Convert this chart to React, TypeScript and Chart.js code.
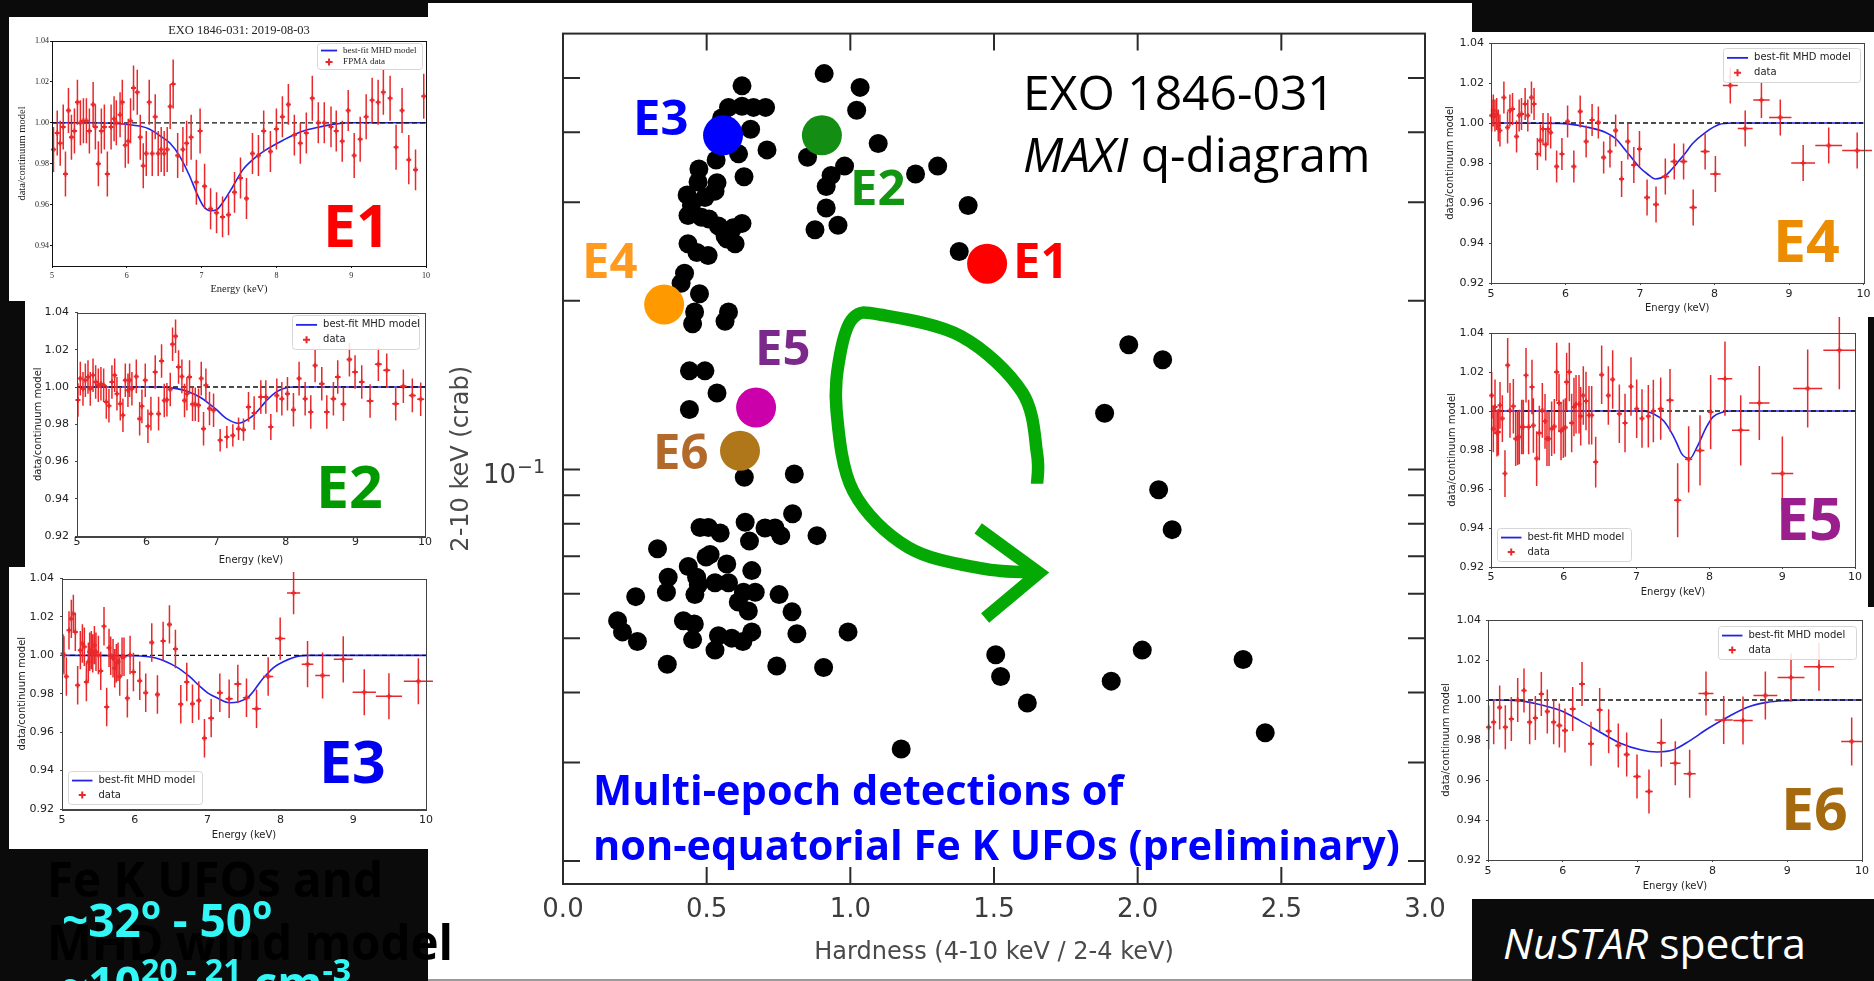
import React, { useEffect, useRef } from 'react';
import { Chart, registerables } from 'chart.js';

Chart.register(...registerables);

const SANS = "'DejaVu Sans', sans-serif";
const SERIF = "'Liberation Serif', 'DejaVu Serif', serif";
const SLIDE = "'Open Sans', 'Noto Sans', sans-serif";

// ---------------- MAXI q-diagram (hardness vs 2-10 keV flux) ----------------
const hardnessTicks = [0, 0.5, 1.0, 1.5, 2.0, 2.5, 3.0];
const fluxTicks = [0.02, 0.03, 0.04, 0.05, 0.06, 0.07, 0.08, 0.09, 0.1, 0.2, 0.3, 0.4, 0.5];

const maxiHardness = [
  0.623, 0.909, 1.034, 1.022, 0.576, 0.623, 0.663, 0.705, 0.552, 0.653,
  0.710, 0.611, 0.533, 0.630, 0.470, 0.529, 0.494, 0.447, 0.435, 0.482,
  0.623, 0.541, 0.592, 0.564, 0.435, 0.599, 0.505, 0.423, 0.411, 0.475,
  0.458, 0.451, 0.576, 0.564, 0.440, 0.494, 0.536, 0.440, 0.851, 1.097,
  0.980, 0.933, 0.916, 0.916, 0.877, 0.957, 1.227, 1.304, 1.410, 1.379,
  0.473, 0.432, 0.536, 0.466, 0.571, 0.508,
  0.631, 0.805, 0.799, 0.634, 0.703, 0.738, 0.758, 0.477, 0.506, 0.547,
  0.649, 0.884, 0.329, 0.512, 0.570, 0.436, 0.657, 0.465, 0.366, 0.529,
  0.576, 0.360, 0.459, 0.253, 0.628, 0.669, 0.752, 0.610, 0.645, 0.797,
  0.190, 0.419, 0.457, 0.207, 0.259, 0.451, 0.541, 0.587, 0.626, 0.657,
  0.529, 0.814, 0.992, 0.363, 0.744, 0.907, 0.498, 0.471,
  1.506, 1.523, 1.616, 1.177, 1.969, 2.087, 1.885, 2.073, 2.120, 2.016,
  1.908, 2.367, 2.444,
];
const maxiFlux = [
  0.484, 0.509, 0.481, 0.438, 0.443, 0.445, 0.443, 0.443, 0.424, 0.405,
  0.372, 0.366, 0.357, 0.333, 0.326, 0.314, 0.306, 0.296, 0.284, 0.282,
  0.275, 0.272, 0.270, 0.261, 0.253, 0.253, 0.241, 0.224, 0.215, 0.206,
  0.191, 0.182, 0.191, 0.184, 0.150, 0.150, 0.137, 0.128, 0.361, 0.382,
  0.348, 0.335, 0.320, 0.293, 0.268, 0.273, 0.337, 0.348, 0.296, 0.245,
  0.344, 0.309, 0.325, 0.244, 0.258, 0.280,
  0.0969, 0.0982, 0.0834, 0.0805, 0.0786, 0.0786, 0.0762, 0.0788, 0.0788, 0.0770,
  0.0745, 0.0762, 0.0722, 0.0705, 0.0678, 0.0671, 0.0660, 0.0642, 0.0642, 0.0628,
  0.0628, 0.0604, 0.0598, 0.0593, 0.0604, 0.0604, 0.0598, 0.0580, 0.0559, 0.0557,
  0.0537, 0.0537, 0.0530, 0.0513, 0.0493, 0.0497, 0.0505, 0.0500, 0.0493, 0.0513,
  0.0476, 0.0509, 0.0513, 0.0449, 0.0446, 0.0443, 0.0698, 0.0623,
  0.0467, 0.0427, 0.0383, 0.0317, 0.167, 0.157, 0.126, 0.092, 0.0781, 0.0476,
  0.0419, 0.0458, 0.0339,
];

// NuSTAR epochs marked on the q-diagram
const epochNames = ['E1', 'E2', 'E3', 'E4', 'E5', 'E6'];
const epochHardness = [1.476, 0.901, 0.557, 0.352, 0.672, 0.616];
const epochFlux = [0.233, 0.395, 0.395, 0.197, 0.129, 0.108];
const epochDotColors = ['#ff0000', '#138d13', '#0000ff', '#ff9900', '#cc00aa', '#b0761a'];

// hand-drawn evolution arrow, in (hardness, flux)
const arrowCurve = [
  [1.65, 0.0943], [1.65, 0.1066], [1.598, 0.1374], [1.387, 0.1728], [1.105, 0.1889],
  [1.01, 0.1865], [0.964, 0.160], [0.952, 0.1274], [1.01, 0.0915], [1.2, 0.0727],
  [1.457, 0.0666], [1.657, 0.0654],
];
const arrowHead = [[1.445, 0.0785], [1.657, 0.0654], [1.469, 0.0543]];

// ---------------- NuSTAR Fe K ratio spectra: [energy, ratio, xErr, yErr] ----------------
const energyTicks = [5, 6, 7, 8, 9, 10];
const ratioTicks = [0.92, 0.94, 0.96, 0.98, 1.0, 1.02, 1.04];
const ratioTicksE1 = [0.94, 0.96, 0.98, 1.0, 1.02, 1.04];

const e1Data = [
  [5.02, 0.987, 0.02, 0.011], [5.07, 0.995, 0.02, 0.011], [5.11, 0.990, 0.02, 0.011], [5.15, 0.998, 0.02, 0.011],
  [5.18, 0.975, 0.02, 0.011], [5.22, 1.006, 0.02, 0.011], [5.26, 0.993, 0.02, 0.011], [5.30, 0.996, 0.02, 0.011],
  [5.34, 1.010, 0.02, 0.011], [5.38, 1.000, 0.02, 0.011], [5.42, 1.001, 0.02, 0.011], [5.46, 1.001, 0.02, 0.011],
  [5.50, 0.996, 0.02, 0.011], [5.55, 1.009, 0.02, 0.011], [5.58, 0.998, 0.02, 0.011], [5.62, 0.980, 0.02, 0.011],
  [5.66, 0.996, 0.02, 0.011], [5.70, 0.998, 0.02, 0.011], [5.74, 0.975, 0.02, 0.011], [5.79, 0.998, 0.02, 0.011],
  [5.83, 1.002, 0.02, 0.011], [5.86, 1.000, 0.02, 0.011], [5.91, 1.004, 0.02, 0.011], [5.94, 1.010, 0.02, 0.011],
  [5.98, 0.989, 0.02, 0.011], [6.02, 0.991, 0.02, 0.011], [6.05, 1.001, 0.02, 0.011], [6.09, 1.017, 0.02, 0.011],
  [6.14, 1.015, 0.02, 0.011], [6.18, 0.993, 0.02, 0.011], [6.22, 0.979, 0.02, 0.011], [6.26, 0.985, 0.02, 0.011],
  [6.30, 1.010, 0.02, 0.011], [6.34, 0.985, 0.02, 0.011], [6.38, 1.003, 0.02, 0.011], [6.42, 0.985, 0.02, 0.011],
  [6.46, 0.987, 0.02, 0.011], [6.50, 0.985, 0.02, 0.011], [6.54, 0.987, 0.02, 0.011], [6.58, 1.008, 0.02, 0.011],
  [6.62, 1.019, 0.02, 0.012], [6.68, 0.984, 0.02, 0.011], [6.75, 0.987, 0.02, 0.011], [6.80, 0.990, 0.02, 0.011],
  [6.86, 0.993, 0.02, 0.011], [6.93, 0.971, 0.02, 0.011], [6.98, 0.996, 0.02, 0.011], [7.04, 0.969, 0.02, 0.011],
  [7.12, 0.958, 0.02, 0.010], [7.20, 0.956, 0.02, 0.010], [7.28, 0.954, 0.02, 0.010], [7.36, 0.955, 0.02, 0.010],
  [7.44, 0.966, 0.02, 0.010], [7.52, 0.973, 0.02, 0.010], [7.60, 0.963, 0.02, 0.010], [7.68, 0.985, 0.02, 0.010],
  [7.76, 0.984, 0.02, 0.010], [7.83, 0.996, 0.02, 0.010], [7.92, 0.986, 0.02, 0.010], [8.00, 0.997, 0.02, 0.010],
  [8.08, 1.003, 0.02, 0.010], [8.16, 1.009, 0.02, 0.010], [8.24, 0.994, 0.02, 0.010], [8.32, 0.990, 0.02, 0.010],
  [8.40, 0.995, 0.02, 0.010], [8.48, 1.012, 0.02, 0.011], [8.56, 1.000, 0.02, 0.010], [8.64, 1.000, 0.02, 0.010],
  [8.73, 0.998, 0.02, 0.010], [8.80, 0.996, 0.02, 0.010], [8.88, 0.991, 0.02, 0.010], [8.96, 1.006, 0.02, 0.010],
  [9.04, 0.984, 0.02, 0.011], [9.12, 0.992, 0.02, 0.011], [9.20, 1.003, 0.02, 0.011], [9.28, 1.011, 0.02, 0.011],
  [9.36, 1.010, 0.02, 0.011], [9.43, 1.015, 0.02, 0.011], [9.52, 1.012, 0.02, 0.011], [9.60, 0.988, 0.02, 0.011],
  [9.68, 1.006, 0.02, 0.011], [9.77, 0.982, 0.02, 0.012], [9.86, 0.977, 0.02, 0.010], [9.97, 1.013, 0.02, 0.011],
];
const e1Model = [
  [5.0, 1.0], [5.5, 1.0], [5.86, 0.9997], [6.17, 0.9984], [6.3, 0.997], [6.45, 0.9935], [6.58, 0.990],
  [6.71, 0.9835], [6.84, 0.974], [6.93, 0.966], [7.02, 0.9595], [7.12, 0.957], [7.2, 0.9575], [7.3, 0.962],
  [7.42, 0.969], [7.55, 0.977], [7.7, 0.9825], [7.87, 0.987], [8.09, 0.9915], [8.32, 0.9955], [8.58, 0.998],
  [8.8, 0.9995], [9.0, 1.0], [10.0, 1.0],
];

const e2Data = [
  [5.014, 0.993, 0.02, 0.009], [5.048, 1.0045, 0.02, 0.009], [5.086, 0.999, 0.02, 0.009], [5.12, 1.0036, 0.02, 0.009],
  [5.158, 1.0054, 0.02, 0.009], [5.191, 0.999, 0.02, 0.009], [5.23, 1.0063, 0.02, 0.009], [5.268, 1.0027, 0.02, 0.009],
  [5.306, 1.0009, 0.02, 0.009], [5.344, 1.0018, 0.02, 0.009], [5.383, 1.0009, 0.02, 0.009], [5.421, 0.992, 0.02, 0.009],
  [5.459, 0.990, 0.02, 0.009], [5.502, 1.0027, 0.02, 0.009], [5.541, 1.0063, 0.02, 0.009], [5.574, 0.9964, 0.02, 0.009],
  [5.622, 0.991, 0.02, 0.009], [5.66, 0.9848, 0.02, 0.009], [5.694, 1.0036, 0.02, 0.009], [5.732, 0.9982, 0.02, 0.009],
  [5.756, 1.0036, 0.02, 0.009], [5.789, 0.9991, 0.02, 0.009], [5.852, 1.0057, 0.02, 0.009], [5.9, 0.983, 0.02, 0.009],
  [5.933, 0.9896, 0.02, 0.009], [5.981, 1.0036, 0.02, 0.009], [6.019, 0.9789, 0.02, 0.009], [6.062, 0.9857, 0.02, 0.009],
  [6.124, 1.0081, 0.02, 0.009], [6.172, 0.9857, 0.02, 0.009], [6.215, 1.014, 0.02, 0.009], [6.254, 0.9928, 0.02, 0.009],
  [6.292, 0.9932, 0.02, 0.009], [6.34, 0.9986, 0.02, 0.009], [6.373, 1.0229, 0.02, 0.009], [6.416, 1.0272, 0.02, 0.009],
  [6.459, 1.0107, 0.02, 0.009], [6.507, 1.0057, 0.02, 0.009], [6.545, 0.9928, 0.02, 0.009], [6.579, 0.9964, 0.02, 0.009],
  [6.617, 1.0054, 0.02, 0.009], [6.66, 0.9907, 0.02, 0.009], [6.699, 0.9907, 0.02, 0.009], [6.746, 0.9902, 0.02, 0.009],
  [6.785, 1.0045, 0.02, 0.009], [6.818, 0.9776, 0.02, 0.009], [6.852, 1.0009, 0.02, 0.009], [6.904, 0.9884, 0.02, 0.009],
  [6.962, 0.9875, 0.02, 0.009], [7.057, 0.9714, 0.03, 0.006], [7.153, 0.9731, 0.03, 0.006], [7.239, 0.974, 0.03, 0.006],
  [7.321, 0.9776, 0.03, 0.006], [7.392, 0.9771, 0.03, 0.006], [7.464, 0.9893, 0.03, 0.008], [7.545, 0.986, 0.03, 0.009],
  [7.641, 0.9946, 0.03, 0.009], [7.713, 0.9946, 0.03, 0.009], [7.785, 0.9785, 0.03, 0.007], [7.871, 0.9955, 0.03, 0.009],
  [7.943, 0.9937, 0.03, 0.009], [8.024, 0.9964, 0.03, 0.009], [8.11, 0.9878, 0.03, 0.009], [8.191, 1.0045, 0.03, 0.009],
  [8.278, 0.9937, 0.03, 0.009], [8.359, 0.9866, 0.03, 0.009], [8.421, 1.0116, 0.03, 0.009], [8.517, 1.0018, 0.04, 0.009],
  [8.589, 0.9866, 0.04, 0.009], [8.684, 0.9937, 0.04, 0.009], [8.746, 1.0054, 0.04, 0.009], [8.828, 0.9907, 0.04, 0.009],
  [8.914, 1.0147, 0.04, 0.009], [8.995, 1.0081, 0.04, 0.009], [9.091, 1.0027, 0.04, 0.009], [9.211, 0.9925, 0.05, 0.009],
  [9.33, 1.0122, 0.05, 0.009], [9.45, 1.009, 0.05, 0.009], [9.579, 0.991, 0.05, 0.009], [9.689, 1.0004, 0.05, 0.009],
  [9.818, 0.9955, 0.05, 0.009], [9.938, 0.9934, 0.05, 0.009],
];
const e2Model = [
  [5.0, 1.0], [6.2, 1.0], [6.45, 0.999], [6.6, 0.9975], [6.77, 0.9945], [6.9, 0.991], [7.0, 0.988], [7.15, 0.983],
  [7.32, 0.9805], [7.45, 0.9825], [7.54, 0.985], [7.65, 0.9895], [7.73, 0.993], [7.85, 0.997], [7.97, 0.9992],
  [8.1, 1.0], [10.0, 1.0],
];

const e3Data = [
  [5.014, 1.001, 0.012, 0.010], [5.027, 1.000, 0.012, 0.010], [5.06, 0.989, 0.012, 0.010], [5.096, 1.013, 0.012, 0.010],
  [5.128, 1.019, 0.012, 0.010], [5.156, 1.0216, 0.012, 0.010], [5.183, 1.0122, 0.012, 0.010], [5.215, 0.9844, 0.012, 0.010],
  [5.252, 1.0027, 0.012, 0.010], [5.28, 1.0062, 0.012, 0.010], [5.307, 1.0045, 0.012, 0.010], [5.335, 0.9861, 0.012, 0.010],
  [5.362, 0.9967, 0.012, 0.010], [5.38, 1.0019, 0.012, 0.010], [5.403, 1.0027, 0.012, 0.010], [5.422, 1.001, 0.012, 0.010],
  [5.445, 1.0053, 0.012, 0.010], [5.467, 1.0019, 0.012, 0.010], [5.5, 1.0002, 0.012, 0.010], [5.532, 0.9919, 0.012, 0.010],
  [5.577, 1.0151, 0.012, 0.010], [5.614, 0.9731, 0.012, 0.010], [5.646, 1.0039, 0.012, 0.010], [5.669, 0.9998, 0.012, 0.010],
  [5.701, 0.9985, 0.012, 0.010], [5.724, 0.9933, 0.012, 0.010], [5.747, 0.9959, 0.012, 0.010], [5.77, 0.9967, 0.012, 0.010],
  [5.793, 0.989, 0.012, 0.010], [5.825, 0.9993, 0.012, 0.010], [5.852, 0.9993, 0.012, 0.010], [5.898, 0.9776, 0.02, 0.010],
  [5.935, 1.0002, 0.02, 0.010], [5.981, 0.9913, 0.02, 0.010], [6.068, 0.9868, 0.03, 0.010], [6.15, 0.9805, 0.03, 0.010],
  [6.233, 1.0067, 0.03, 0.010], [6.311, 0.9796, 0.03, 0.010], [6.389, 1.0075, 0.03, 0.010], [6.476, 1.0161, 0.03, 0.010],
  [6.558, 1.0033, 0.03, 0.010], [6.632, 0.9745, 0.03, 0.010], [6.714, 0.9861, 0.03, 0.010], [6.792, 0.9748, 0.03, 0.010],
  [6.879, 0.9765, 0.03, 0.010], [6.957, 0.9568, 0.03, 0.010], [7.049, 0.9673, 0.04, 0.010], [7.168, 0.9805, 0.04, 0.010],
  [7.296, 0.9774, 0.05, 0.010], [7.415, 0.9851, 0.05, 0.010], [7.534, 0.9779, 0.05, 0.010], [7.672, 0.9722, 0.06, 0.010],
  [7.832, 0.989, 0.07, 0.010], [7.997, 1.0087, 0.07, 0.011], [8.181, 1.0324, 0.09, 0.011], [8.373, 0.9954, 0.08, 0.012],
  [8.579, 0.9895, 0.1, 0.012], [8.863, 0.9979, 0.13, 0.012], [9.152, 0.9808, 0.16, 0.012], [9.491, 0.9787, 0.18, 0.012],
  [9.895, 0.9865, 0.2, 0.012],
];
const e3Model = [
  [5.0, 1.0], [5.98, 0.9998], [6.3, 0.9985], [6.57, 0.994], [6.75, 0.989], [6.89, 0.984], [7.0, 0.9805],
  [7.12, 0.978], [7.3, 0.9753], [7.44, 0.976], [7.55, 0.978], [7.63, 0.9813], [7.72, 0.986], [7.81, 0.990],
  [7.92, 0.994], [8.04, 0.9967], [8.27, 0.9997], [8.4, 1.0], [10.0, 1.0],
];

const e4Data = [
  [5.009, 1.0037, 0.012, 0.008], [5.031, 1.0062, 0.012, 0.008], [5.053, 1.0037, 0.012, 0.008], [5.076, 1.0045, 0.012, 0.008],
  [5.098, 0.9987, 0.012, 0.008], [5.12, 0.9962, 0.012, 0.008], [5.173, 1.0128, 0.012, 0.008], [5.222, 0.9978, 0.012, 0.008],
  [5.254, 1.0062, 0.012, 0.008], [5.289, 1.007, 0.012, 0.008], [5.343, 0.9932, 0.012, 0.008], [5.378, 1.0037, 0.012, 0.008],
  [5.409, 1.0045, 0.012, 0.008], [5.458, 1.0095, 0.012, 0.008], [5.494, 1.0037, 0.012, 0.008], [5.543, 1.0128, 0.012, 0.008],
  [5.578, 1.0095, 0.012, 0.008], [5.623, 0.9845, 0.012, 0.008], [5.663, 0.9912, 0.012, 0.008], [5.698, 0.997, 0.012, 0.008],
  [5.734, 0.9892, 0.012, 0.008], [5.765, 0.997, 0.012, 0.008], [5.801, 0.9953, 0.012, 0.008], [5.881, 0.9783, 0.02, 0.008],
  [5.952, 0.9845, 0.02, 0.008], [6.028, 1.0008, 0.03, 0.008], [6.112, 0.9783, 0.03, 0.008], [6.197, 1.0058, 0.03, 0.008],
  [6.277, 0.9908, 0.03, 0.008], [6.357, 1.0015, 0.03, 0.008], [6.441, 1.0003, 0.03, 0.008], [6.512, 0.9828, 0.03, 0.008],
  [6.597, 0.9858, 0.03, 0.008], [6.673, 0.9962, 0.03, 0.008], [6.753, 0.972, 0.03, 0.009], [6.837, 0.9907, 0.03, 0.009],
  [6.917, 0.979, 0.03, 0.009], [6.993, 0.987, 0.03, 0.009], [7.095, 0.9628, 0.04, 0.009], [7.215, 0.9592, 0.04, 0.009],
  [7.34, 0.9733, 0.05, 0.009], [7.46, 0.9808, 0.05, 0.009], [7.585, 0.9808, 0.05, 0.009], [7.714, 0.9578, 0.05, 0.009],
  [7.874, 0.9858, 0.06, 0.009], [8.012, 0.9745, 0.07, 0.009], [8.212, 1.0187, 0.1, 0.009], [8.412, 0.9973, 0.1, 0.009],
  [8.63, 1.0115, 0.11, 0.009], [8.883, 1.0028, 0.15, 0.009], [9.19, 0.98, 0.16, 0.009], [9.533, 0.9887, 0.18, 0.009],
  [9.915, 0.9862, 0.2, 0.009],
];
const e4Model = [
  [5.0, 1.0], [5.92, 0.9998], [6.28, 0.998], [6.54, 0.9953], [6.68, 0.992], [6.77, 0.988], [6.88, 0.983],
  [6.99, 0.978], [7.1, 0.9745], [7.21, 0.972], [7.34, 0.9737], [7.43, 0.977], [7.52, 0.981], [7.61, 0.985],
  [7.7, 0.9895], [7.88, 0.9953], [8.06, 0.9992], [8.23, 1.0], [10.0, 1.0],
];

const e5Data = [
  [5.009, 1.008, 0.01, 0.012], [5.032, 0.9909, 0.01, 0.012], [5.055, 1.0021, 0.01, 0.014], [5.082, 0.9887, 0.01, 0.012],
  [5.101, 0.9892, 0.01, 0.012], [5.124, 1.0029, 0.01, 0.012], [5.156, 0.9961, 0.01, 0.012], [5.192, 0.9679, 0.01, 0.012],
  [5.229, 1.0234, 0.01, 0.014], [5.261, 1.0003, 0.01, 0.014], [5.307, 1.0024, 0.01, 0.014], [5.339, 0.9858, 0.01, 0.014],
  [5.366, 0.9863, 0.01, 0.014], [5.389, 0.9867, 0.01, 0.014], [5.421, 0.9918, 0.01, 0.014], [5.444, 0.9918, 0.01, 0.014],
  [5.481, 1.0183, 0.01, 0.014], [5.517, 0.9918, 0.01, 0.014], [5.563, 1.0123, 0.01, 0.014], [5.582, 0.9926, 0.01, 0.014],
  [5.627, 0.9756, 0.01, 0.014], [5.664, 0.9887, 0.01, 0.014], [5.705, 1.0003, 0.01, 0.014], [5.742, 0.9947, 0.01, 0.014],
  [5.769, 0.9858, 0.01, 0.014], [5.797, 0.9858, 0.01, 0.014], [5.833, 0.9909, 0.01, 0.014], [5.87, 0.9921, 0.01, 0.014],
  [5.902, 1.02, 0.01, 0.015], [5.934, 1.0041, 0.01, 0.015], [5.962, 0.9897, 0.01, 0.015], [5.994, 0.9909, 0.01, 0.015],
  [6.021, 0.9915, 0.01, 0.015], [6.039, 1.0149, 0.01, 0.015], [6.076, 1.02, 0.01, 0.015], [6.108, 0.9938, 0.01, 0.015],
  [6.14, 1.0021, 0.01, 0.015], [6.168, 1.0034, 0.01, 0.015], [6.209, 1.0034, 0.01, 0.015], [6.232, 0.9973, 0.01, 0.015],
  [6.268, 1.008, 0.01, 0.015], [6.305, 1.0051, 0.01, 0.015], [6.346, 0.9978, 0.01, 0.015], [6.383, 0.9978, 0.01, 0.015],
  [6.438, 0.9738, 0.02, 0.013], [6.52, 1.0186, 0.02, 0.015], [6.612, 1.008, 0.02, 0.015], [6.671, 1.0161, 0.02, 0.015],
  [6.763, 0.9986, 0.02, 0.015], [6.841, 0.9938, 0.02, 0.015], [6.923, 1.0126, 0.02, 0.015], [7.001, 1.0012, 0.02, 0.015],
  [7.074, 0.9961, 0.02, 0.015], [7.161, 0.9973, 0.02, 0.016], [7.23, 1.0, 0.02, 0.016], [7.331, 1.0012, 0.04, 0.016],
  [7.459, 1.0055, 0.05, 0.016], [7.564, 0.9542, 0.05, 0.019], [7.715, 0.9752, 0.05, 0.017], [7.871, 0.9798, 0.06, 0.018],
  [8.017, 0.9995, 0.04, 0.019], [8.214, 1.0166, 0.1, 0.019], [8.43, 0.9901, 0.12, 0.018], [8.686, 1.0041, 0.14, 0.019],
  [9.002, 0.9679, 0.15, 0.019], [9.35, 1.0115, 0.2, 0.02], [9.785, 1.0311, 0.22, 0.02],
];
const e5Model = [
  [5.0, 1.0], [7.1, 1.0], [7.23, 0.9986], [7.37, 0.995], [7.5, 0.9875], [7.57, 0.982], [7.62, 0.978],
  [7.73, 0.9756], [7.83, 0.9815], [7.96, 0.9918], [8.05, 0.997], [8.19, 0.9995], [8.3, 1.0], [10.0, 1.0],
];

const e6Data = [
  [5.009, 0.9864, 0.03, 0.011], [5.076, 0.9889, 0.03, 0.011], [5.156, 0.9963, 0.03, 0.011], [5.232, 0.9864, 0.03, 0.011],
  [5.312, 0.9905, 0.03, 0.011], [5.397, 1.0, 0.03, 0.011], [5.481, 1.0047, 0.03, 0.011], [5.557, 0.9889, 0.03, 0.011],
  [5.633, 0.991, 0.03, 0.011], [5.713, 1.003, 0.03, 0.011], [5.793, 0.9942, 0.03, 0.011], [5.878, 0.9889, 0.03, 0.011],
  [5.954, 0.9872, 0.04, 0.011], [6.029, 0.9847, 0.04, 0.011], [6.132, 0.9955, 0.04, 0.011], [6.257, 1.008, 0.04, 0.011],
  [6.377, 0.9781, 0.04, 0.011], [6.493, 0.995, 0.04, 0.011], [6.613, 0.9844, 0.04, 0.011], [6.742, 0.9772, 0.04, 0.011],
  [6.854, 0.9727, 0.04, 0.011], [6.992, 0.9618, 0.05, 0.011], [7.152, 0.9543, 0.05, 0.011], [7.317, 0.9786, 0.06, 0.012],
  [7.504, 0.9684, 0.07, 0.011], [7.696, 0.9631, 0.08, 0.012], [7.914, 1.0033, 0.1, 0.011], [8.151, 0.990, 0.12, 0.012],
  [8.409, 0.9897, 0.13, 0.012], [8.708, 1.0022, 0.16, 0.012], [9.051, 1.0113, 0.18, 0.012], [9.425, 1.0166, 0.2, 0.012],
  [9.862, 0.9792, 0.14, 0.012],
];
const e6Model = [
  [5.0, 1.0], [5.39, 0.9997], [5.66, 0.998], [5.97, 0.9947], [6.23, 0.9897], [6.5, 0.9839], [6.77, 0.9784],
  [7.04, 0.9751], [7.26, 0.974], [7.48, 0.9751], [7.7, 0.9797], [7.93, 0.9855], [8.2, 0.9914], [8.46, 0.9963],
  [8.73, 0.9988], [9.0, 0.9997], [9.2, 1.0], [10.0, 1.0],
];

// ---------------- panel geometry (page pixels) ----------------
const PANELS = [
  {
    key: 'E1', data: e1Data, model: e1Model, yMin: 0.93, yTicks: ratioTicksE1, serif: true,
    white: { l: 9, t: 17, w: 419, h: 284 }, canvas: { l: 9, t: 17, w: 432, h: 284 },
    area: { l: 52, t: 41, r: 426, b: 266 }, tickSize: 8, labelSize: 10.5, legendSize: 9,
    xTickY: 276, yTickRight: 49, xTitleY: 289, yTitleX: 22,
    title: 'EXO 1846-031: 2019-08-03', titleY: 31, titleSize: 12.5,
    legend: { l: 317, t: 43, w: 105, h: 26 }, dataLabel: 'FPMA data',
  },
  {
    key: 'E2', data: e2Data, model: e2Model, yMin: 0.92, yTicks: ratioTicks, serif: false,
    white: { l: 25, t: 301, w: 403, h: 266 }, canvas: { l: 25, t: 301, w: 415, h: 266 },
    area: { l: 77, t: 312, r: 425, b: 536 }, tickSize: 11, labelSize: 10, legendSize: 10,
    xTickY: 542, yTickRight: 69, xTitleY: 560, yTitleX: 38,
    legend: { l: 292, t: 315, w: 127, h: 34 }, dataLabel: 'data',
  },
  {
    key: 'E3', data: e3Data, model: e3Model, yMin: 0.92, yTicks: ratioTicks, serif: false,
    white: { l: 9, t: 567, w: 419, h: 282 }, canvas: { l: 9, t: 567, w: 432, h: 282 },
    area: { l: 62, t: 576, r: 426, b: 809 }, tickSize: 11, labelSize: 10, legendSize: 10,
    xTickY: 820, yTickRight: 54, xTitleY: 835, yTitleX: 22,
    legend: { l: 68, t: 771, w: 134, h: 33 }, dataLabel: 'data',
  },
  {
    key: 'E4', data: e4Data, model: e4Model, yMin: 0.92, yTicks: ratioTicks, serif: false,
    white: { l: 1433, t: 32, w: 441, h: 285 }, canvas: { l: 1433, t: 32, w: 441, h: 285 },
    area: { l: 1491, t: 43, r: 1866, b: 283 }, tickSize: 11, labelSize: 10, legendSize: 10,
    xTickY: 294, yTickRight: 1484, xTitleY: 308, yTitleX: 1450,
    legend: { l: 1723, t: 48, w: 137, h: 34 }, dataLabel: 'data',
  },
  {
    key: 'E5', data: e5Data, model: e5Model, yMin: 0.92, yTicks: ratioTicks, serif: false,
    white: { l: 1433, t: 317, w: 435, h: 290 }, canvas: { l: 1433, t: 317, w: 435, h: 290 },
    area: { l: 1491, t: 333, r: 1855, b: 567 }, tickSize: 11, labelSize: 10, legendSize: 10,
    xTickY: 577, yTickRight: 1484, xTitleY: 592, yTitleX: 1452,
    legend: { l: 1497, t: 528, w: 134, h: 33 }, dataLabel: 'data',
  },
  {
    key: 'E6', data: e6Data, model: e6Model, yMin: 0.92, yTicks: ratioTicks, serif: false,
    white: { l: 1433, t: 607, w: 441, h: 292 }, canvas: { l: 1433, t: 607, w: 441, h: 292 },
    area: { l: 1488, t: 620, r: 1862, b: 860 }, tickSize: 11, labelSize: 10, legendSize: 10,
    xTickY: 871, yTickRight: 1481, xTitleY: 886, yTitleX: 1446,
    legend: { l: 1718, t: 626, w: 138, h: 33 }, dataLabel: 'data',
  },
];

const DATA_RED = '#e8282a';
const MODEL_BLUE = '#2323e6';

function drawPlus(ctx, x, y, r) {
  ctx.moveTo(x - r, y);
  ctx.lineTo(x + r, y);
  ctx.moveTo(x, y - r);
  ctx.lineTo(x, y + r);
}

function makeSpectrumPlugin(spec) {
  const c = spec.canvas;
  return {
    id: 'spectrumDecor',
    afterDatasetsDraw(chart) {
      const { ctx, scales } = chart;
      const xs = scales.x;
      const ys = scales.y;
      ctx.save();
      ctx.strokeStyle = DATA_RED;
      ctx.lineWidth = 1.5;
      ctx.beginPath();
      spec.data.forEach(([e, r, xe, ye]) => {
        const px = xs.getPixelForValue(e);
        const py = ys.getPixelForValue(r);
        ctx.moveTo(xs.getPixelForValue(e - xe), py);
        ctx.lineTo(xs.getPixelForValue(e + xe), py);
        ctx.moveTo(px, ys.getPixelForValue(r - ye));
        ctx.lineTo(px, ys.getPixelForValue(r + ye));
      });
      ctx.stroke();
      ctx.lineWidth = 2;
      ctx.beginPath();
      spec.data.forEach(([e, r]) => drawPlus(ctx, xs.getPixelForValue(e), ys.getPixelForValue(r), 2.5));
      ctx.stroke();
      ctx.restore();
    },
    afterDraw(chart) {
      const { ctx, chartArea: a } = chart;
      ctx.save();
      ctx.strokeStyle = spec.serif ? '#111' : '#444';
      ctx.lineWidth = 1;
      ctx.strokeRect(Math.round(a.left) + 0.5, Math.round(a.top) + 0.5, Math.round(a.right - a.left), Math.round(a.bottom - a.top));
      const fam = spec.serif ? SERIF : SANS;
      if (spec.title) {
        ctx.fillStyle = '#222';
        ctx.font = `${spec.titleSize}px ${fam}`;
        ctx.textAlign = 'center';
        ctx.textBaseline = 'middle';
        ctx.fillText(spec.title, (a.left + a.right) / 2, spec.titleY - c.t);
      }
      // legend box
      const L = spec.legend;
      const lx = L.l - c.l;
      const ly = L.t - c.t;
      ctx.beginPath();
      ctx.roundRect(lx + 0.5, ly + 0.5, L.w, L.h, 3);
      ctx.fillStyle = 'rgba(255,255,255,0.85)';
      ctx.fill();
      ctx.strokeStyle = '#d6d6d6';
      ctx.stroke();
      const row1 = ly + L.h * 0.29;
      const row2 = ly + L.h * 0.73;
      const sampleLen = L.h * 0.62;
      ctx.strokeStyle = MODEL_BLUE;
      ctx.lineWidth = 1.8;
      ctx.beginPath();
      ctx.moveTo(lx + 4, row1);
      ctx.lineTo(lx + 4 + sampleLen, row1);
      ctx.stroke();
      ctx.strokeStyle = DATA_RED;
      ctx.lineWidth = 2;
      ctx.beginPath();
      drawPlus(ctx, lx + 4 + sampleLen / 2, row2, 3.5);
      ctx.stroke();
      ctx.fillStyle = '#222';
      ctx.font = `${spec.legendSize}px ${fam}`;
      ctx.textAlign = 'left';
      ctx.textBaseline = 'middle';
      ctx.fillText('best-fit MHD model', lx + 10 + sampleLen, row1);
      ctx.fillText(spec.dataLabel, lx + 10 + sampleLen, row2);
      ctx.restore();
    },
  };
}

function SpectrumPanel({ spec }) {
  const ref = useRef(null);
  const c = spec.canvas;
  useEffect(() => {
    const a = spec.area;
    const fam = spec.serif ? SERIF : SANS;
    const tickLen = 2;
    const tickFont = { family: fam, size: spec.tickSize, lineHeight: 1 };
    const labelFont = { family: fam, size: spec.labelSize, lineHeight: 1.2 };
    const xTickPad = spec.xTickY - a.b - tickLen - spec.tickSize * 0.5;
    const yTickPad = a.l - tickLen - spec.yTickRight;
    const xTitlePad = c.t + c.h - spec.xTitleY - spec.labelSize * 0.6;
    const yTitlePad = spec.yTitleX - c.l - spec.labelSize * 0.6;
    const axisColor = spec.serif ? '#111' : '#444';
    const chart = new Chart(ref.current, {
      type: 'line',
      data: {
        datasets: [
          {
            data: [{ x: 5, y: 1 }, { x: 10, y: 1 }],
            borderColor: '#111', borderDash: [5, 3], borderWidth: 1.3, pointRadius: 0,
          },
          {
            data: spec.model.map(([x, y]) => ({ x, y })),
            borderColor: MODEL_BLUE, borderWidth: 1.6, pointRadius: 0, cubicInterpolationMode: 'monotone',
          },
        ],
      },
      options: {
        animation: false,
        responsive: false,
        events: [],
        layout: { padding: { top: a.t - c.t, right: c.l + c.w - a.r, bottom: 0, left: 0 } },
        plugins: { legend: { display: false }, tooltip: { enabled: false } },
        scales: {
          x: {
            type: 'linear', min: 5, max: 10,
            afterBuildTicks: (s) => { s.ticks = energyTicks.map((v) => ({ value: v })); },
            afterFit: (s) => { s.height = c.t + c.h - a.b; },
            ticks: { autoSkip: false, maxRotation: 0, padding: xTickPad, font: tickFont, color: '#222', callback: (v) => String(v) },
            grid: { display: true, drawOnChartArea: false, drawTicks: true, tickLength: tickLen, tickColor: axisColor },
            border: { display: true, color: axisColor, width: 1 },
            title: { display: true, text: 'Energy (keV)', font: labelFont, color: '#222', padding: { top: 0, bottom: xTitlePad } },
          },
          y: {
            type: 'linear', min: spec.yMin, max: 1.04,
            afterBuildTicks: (s) => { s.ticks = spec.yTicks.map((v) => ({ value: v })); },
            afterFit: (s) => { s.width = a.l - c.l; },
            ticks: { autoSkip: false, padding: yTickPad, font: tickFont, color: '#222', callback: (v) => Number(v).toFixed(2) },
            grid: { display: true, drawOnChartArea: false, drawTicks: true, tickLength: tickLen, tickColor: axisColor },
            border: { display: true, color: axisColor, width: 1 },
            title: { display: true, text: 'data/continuum model', font: labelFont, color: '#222', padding: { top: yTitlePad, bottom: 0 } },
          },
        },
      },
      plugins: [makeSpectrumPlugin(spec)],
    });
    return () => chart.destroy();
  }, [spec]);
  return (
    <canvas
      ref={ref}
      width={c.w}
      height={c.h}
      style={{ position: 'absolute', left: c.l, top: c.t, width: c.w, height: c.h }}
    />
  );
}

// ---------------- main q-diagram ----------------
const Q_CANVAS = { l: 428, t: 0, w: 1044, h: 981 };
const Q_AREA = { l: 563, t: 29, r: 1425, b: 884 };

function smoothThrough(ctx, pts) {
  ctx.moveTo(pts[0].x, pts[0].y);
  for (let i = 0; i < pts.length - 1; i++) {
    const p0 = pts[i - 1] || pts[i];
    const p1 = pts[i];
    const p2 = pts[i + 1];
    const p3 = pts[i + 2] || pts[i + 1];
    ctx.bezierCurveTo(
      p1.x + (p2.x - p0.x) / 6, p1.y + (p2.y - p0.y) / 6,
      p2.x - (p3.x - p1.x) / 6, p2.y - (p3.y - p1.y) / 6,
      p2.x, p2.y,
    );
  }
}

const qDecorPlugin = {
  id: 'qDecor',
  afterDatasetsDraw(chart) {
    const { ctx, scales } = chart;
    const toPx = ([h, f]) => ({ x: scales.x.getPixelForValue(h), y: scales.y.getPixelForValue(f) });
    ctx.save();
    ctx.strokeStyle = '#04a904';
    ctx.lineWidth = 12.5;
    ctx.lineCap = 'butt';
    ctx.lineJoin = 'round';
    ctx.beginPath();
    smoothThrough(ctx, arrowCurve.map(toPx));
    ctx.stroke();
    ctx.lineJoin = 'miter';
    ctx.beginPath();
    const head = arrowHead.map(toPx);
    ctx.moveTo(head[0].x, head[0].y);
    ctx.lineTo(head[1].x, head[1].y);
    ctx.lineTo(head[2].x, head[2].y);
    ctx.stroke();
    ctx.restore();
  },
  afterDraw(chart) {
    const { ctx, chartArea: a, scales } = chart;
    const len = 17;
    ctx.save();
    ctx.strokeStyle = '#2b2b2b';
    ctx.lineWidth = 2;
    ctx.strokeRect(a.left, a.top, a.right - a.left, a.bottom - a.top);
    ctx.beginPath();
    hardnessTicks.forEach((v) => {
      const px = scales.x.getPixelForValue(v);
      if (px <= a.left + 1 || px >= a.right - 1) return;
      ctx.moveTo(px, a.bottom);
      ctx.lineTo(px, a.bottom - len);
      ctx.moveTo(px, a.top);
      ctx.lineTo(px, a.top + len);
    });
    fluxTicks.forEach((v) => {
      const py = scales.y.getPixelForValue(v);
      ctx.moveTo(a.left, py);
      ctx.lineTo(a.left + len, py);
      ctx.moveTo(a.right, py);
      ctx.lineTo(a.right - len, py);
    });
    ctx.stroke();
    // decade label of the log axis, matplotlib-style mantissa + superscript exponent
    const py = scales.y.getPixelForValue(0.1);
    const right = a.left - 18;
    ctx.fillStyle = '#3c3c3c';
    ctx.textBaseline = 'alphabetic';
    ctx.textAlign = 'right';
    ctx.font = `19px ${SANS}`;
    ctx.fillText('\u22121', right, py + 3);
    const expW = ctx.measureText('\u22121').width;
    ctx.font = `26px ${SANS}`;
    ctx.fillText('10', right - expW - 1, py + 13);
    ctx.restore();
  },
};

function QDiagram() {
  const ref = useRef(null);
  const c = Q_CANVAS;
  useEffect(() => {
    const a = Q_AREA;
    const tickSize = 26;
    const titleSize = 24;
    const chart = new Chart(ref.current, {
      type: 'scatter',
      data: {
        datasets: [
          {
            label: 'NuSTAR epochs',
            data: epochHardness.map((h, i) => ({ x: h, y: epochFlux[i] })),
            pointRadius: 20, pointBackgroundColor: epochDotColors, pointBorderWidth: 0, order: 1,
          },
          {
            label: 'MAXI',
            data: maxiHardness.map((h, i) => ({ x: h, y: maxiFlux[i] })),
            pointRadius: 9.5, pointBackgroundColor: '#000', pointBorderWidth: 0, order: 2,
          },
        ],
      },
      options: {
        animation: false,
        responsive: false,
        events: [],
        layout: { padding: { top: a.t - c.t, right: c.l + c.w - a.r, bottom: 0, left: 0 } },
        plugins: { legend: { display: false }, tooltip: { enabled: false } },
        scales: {
          x: {
            type: 'linear', min: 0, max: 3,
            afterBuildTicks: (s) => { s.ticks = hardnessTicks.map((v) => ({ value: v })); },
            afterFit: (s) => { s.height = c.t + c.h - a.b; },
            ticks: {
              autoSkip: false, maxRotation: 0, padding: 910 - a.b - tickSize * 0.6,
              font: { family: SANS, size: tickSize }, color: '#3c3c3c',
              callback: (v) => Number(v).toFixed(1),
            },
            grid: { display: false, drawTicks: false },
            border: { display: false },
            title: {
              display: true, text: 'Hardness (4-10 keV / 2-4 keV)', color: '#4a4a4a',
              font: { family: SANS, size: titleSize }, padding: { top: 0, bottom: c.t + c.h - 953 - titleSize * 0.6 },
            },
          },
          y: {
            type: 'logarithmic', min: 0.0182, max: 0.6,
            afterBuildTicks: (s) => { s.ticks = fluxTicks.map((v) => ({ value: v })); },
            afterFit: (s) => { s.width = a.l - c.l; },
            ticks: { autoSkip: false, padding: 18, font: { family: SANS, size: tickSize }, color: '#3c3c3c', callback: () => '' },
            grid: { display: false, drawTicks: false },
            border: { display: false },
            title: {
              display: true, text: '2-10 keV (crab)', color: '#4a4a4a',
              font: { family: SANS, size: titleSize }, padding: { top: 462 - c.l - titleSize * 0.6, bottom: 0 },
            },
          },
        },
      },
      plugins: [qDecorPlugin],
    });
    return () => chart.destroy();
  }, []);
  return (
    <canvas
      ref={ref}
      width={c.w}
      height={c.h}
      style={{ position: 'absolute', left: c.l, top: c.t, width: c.w, height: c.h }}
    />
  );
}

// ---------------- slide text helpers ----------------
function Txt({ x, base, size, color, bold = false, italic = false, family = SLIDE, children }) {
  return (
    <div
      style={{
        position: 'absolute', left: x, top: base - 0.888 * size, fontSize: size, lineHeight: `${size}px`,
        color, fontWeight: bold ? 700 : 400, fontStyle: italic ? 'italic' : 'normal', fontFamily: family,
        whiteSpace: 'nowrap',
      }}
    >
      {children}
    </div>
  );
}

const Box = ({ l, t, w, h, bg }) => (
  <div style={{ position: 'absolute', left: l, top: t, width: w, height: h, background: bg }} />
);

const BLACK = '#0b0b0b';
const CYAN = '#33f6f6';

const centralTags = [
  { name: 'E3', x: 633, base: 136, color: '#0000ff' },
  { name: 'E2', x: 850, base: 206, color: '#129612' },
  { name: 'E4', x: 582, base: 279, color: '#ff9a1f' },
  { name: 'E1', x: 1013, base: 279, color: '#ff0000' },
  { name: 'E5', x: 755, base: 366, color: '#7b2a8c' },
  { name: 'E6', x: 653, base: 470, color: '#b3692a' },
];

const panelTags = [
  { name: 'E1', x: 323, base: 247, color: '#ff0000' },
  { name: 'E2', x: 316, base: 508, color: '#009a00' },
  { name: 'E3', x: 319, base: 783, color: '#0000f0' },
  { name: 'E4', x: 1773, base: 262, color: '#ec8c00' },
  { name: 'E5', x: 1776, base: 540, color: '#9a1f8c' },
  { name: 'E6', x: 1781, base: 830, color: '#a56a10' },
];

export default function App() {
  const sup = { fontSize: '0.7em', verticalAlign: '0.55em' };
  return (
    <div style={{ position: 'fixed', left: 0, top: 0, width: 1874, height: 981, background: '#fff', overflow: 'hidden' }}>
      <Box l={0} t={0} w={428} h={981} bg={BLACK} />
      <Box l={0} t={0} w={1874} h={3} bg={BLACK} />
      <Box l={1472} t={0} w={402} h={32} bg={BLACK} />
      <Box l={1868} t={317} w={6} h={290} bg={BLACK} />
      <Box l={1472} t={899} w={402} h={82} bg={BLACK} />
      <Box l={428} t={979} w={1044} h={2} bg="#9a9a9a" />
      {PANELS.map((p) => (
        <Box key={`w${p.key}`} l={p.white.l} t={p.white.t} w={p.white.w} h={p.white.h} bg="#fff" />
      ))}

      <QDiagram />
      {PANELS.map((p) => (
        <SpectrumPanel key={p.key} spec={p} />
      ))}

      {/* q-diagram annotations */}
      <Txt x={1023} base={111} size={48} color="#000">EXO 1846-031</Txt>
      <Txt x={1023} base={173} size={48} color="#000"><i>MAXI</i> q-diagram</Txt>
      <Txt x={593} base={806} size={41.5} color="#0000ff" bold>Multi-epoch detections of</Txt>
      <Txt x={593} base={861} size={41.5} color="#0000ff" bold>non-equatorial Fe K UFOs (preliminary)</Txt>
      {centralTags.map((t) => (
        <Txt key={`c${t.name}`} x={t.x} base={t.base} size={49} color={t.color} bold>{t.name}</Txt>
      ))}
      {panelTags.map((t) => (
        <Txt key={`p${t.name}`} x={t.x} base={t.base} size={59} color={t.color} bold>{t.name}</Txt>
      ))}

      {/* caption boxes */}
      <Txt x={47} base={897} size={47.5} color="#000" bold>Fe K UFOs and</Txt>
      <Txt x={47} base={960} size={47.5} color="#000" bold>MHD wind model</Txt>
      <Txt x={62} base={925} size={46} color={CYAN} bold>~32<span style={sup}>o</span> - 50<span style={sup}>o</span></Txt>
      <Txt x={62} base={988} size={46} color={CYAN} bold>~10<span style={sup}>20 - 21</span> cm<span style={sup}>-3</span></Txt>
      <Txt x={1503} base={960} size={42.5} color="#fff"><i>NuSTAR</i> spectra</Txt>
    </div>
  );
}
